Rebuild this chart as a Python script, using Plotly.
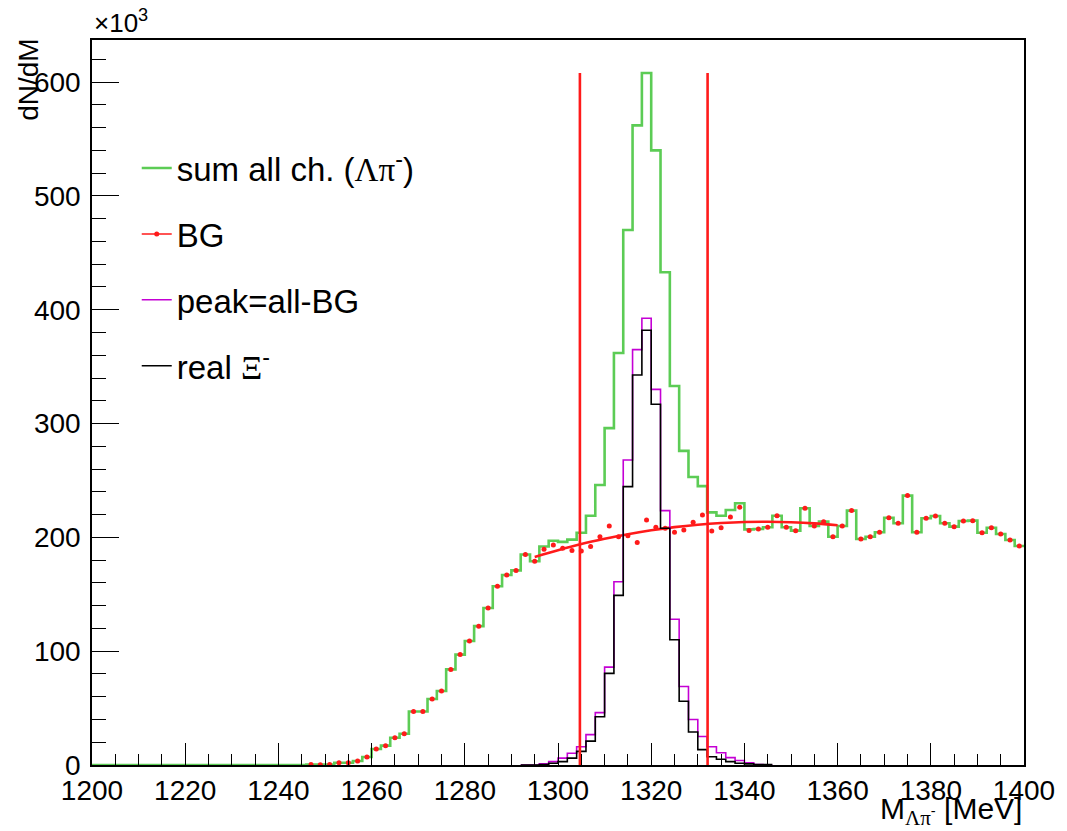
import plotly.graph_objects as go

# ---- binning (2 MeV bins from 1200 to 1400 MeV) ----
BIN_LO = 1200
BIN_W = 2
N_BINS = 100

# ---- sum of all channels (Lambda pi-), counts / 10^3, bins 0..99 ----
sum_all = [0] * 23 + [
    0.5, 0.3, 0.5, 2, 2, 3.5, 7, 14, 17, 24,            # 23-32
    27.5, 47, 47, 58, 65, 84, 97, 109, 122, 138,        # 33-42
    157, 167, 171, 185, 179, 192, 197, 196, 198, 204,   # 43-52
    219, 246, 296, 362, 470, 562, 608, 540, 433, 333,   # 53-62
    276, 253, 245, 222, 219, 224, 230, 207, 207.4, 208.9,  # 63-72
    219, 208.9, 205.9, 225.6, 210, 213.8, 200.6, 210, 223.5, 198.6,  # 73-82
    200.6, 204.5, 217.3, 212.4, 236.7, 204.5, 216.8, 218.8, 212.4, 209.4,  # 83-92
    214.4, 214.7, 204.1, 208.5, 203, 197.7, 192.4,      # 93-99
]

# ---- background estimate (points), bins 23..99 ----
bg_first_bin = 23
bg = [
    0.5, 0.3, 0.5, 2, 2, 3.5, 7, 14, 17, 24,            # 23-32
    27.5, 47, 47, 58, 65, 84, 97, 109, 122, 138,        # 33-42
    157, 167, 171, 185, 179, 189.5, 193.3, 190.5, 188.5, 188,  # 43-52
    192, 200.5, 210, 200.5, 201.5, 195.5, 215.3, 209, 208, 204.5,  # 53-62
    206.5, 213.3, 219.7, 205.5, 208.5, 218, 226.5, 206, 207.4, 208.9,  # 63-72
    219, 208.9, 205.9, 225.6, 210, 213.8, 200.6, 210, 223.5, 198.6,  # 73-82
    200.6, 204.5, 217.3, 212.4, 236.7, 204.5, 216.8, 218.8, 212.4, 209.4,  # 83-92
    214.4, 214.7, 204.1, 208.5, 203, 197.7, 192.4,      # 93-99
]

# ---- smooth background fit curve ----
fit_m = [1295, 1300, 1305, 1310, 1315, 1320, 1325, 1330, 1335, 1340, 1345, 1350, 1355, 1360]
fit_v = [182.8, 188.7, 194.1, 198.7, 202.8, 206.2, 209.0, 211.1, 212.6, 213.5, 213.7, 213.3, 212.3, 210.6]

# ---- peak = all - BG, bins 46..72 ----
sig_first_bin = 46
peak = [0, 0, 1, 3, 6, 10.3, 16, 26.7, 46, 86, 161, 268, 365, 392.5,
        330, 223.5, 128, 69, 40, 25, 16, 10.8, 6.5, 4, 2, 0.5, 0]

# ---- real Xi-, bins 46..72 ----
real_xi = [0, 0, 0.5, 1.5, 3, 6, 12, 21, 42.4, 80.5, 149, 244.6, 342.7, 382,
           317, 208, 110, 56, 29, 13.5, 7.3, 5, 3, 1.5, 1, 0.5, 0.3]

# ---- signal window cuts (MeV) ----
cut_lo = 1304.7
cut_hi = 1332.1

# ---- axis ticks ----
x_ticks = [1200, 1220, 1240, 1260, 1280, 1300, 1320, 1340, 1360, 1380, 1400]
y_ticks = [0, 100, 200, 300, 400, 500, 600]

GREEN = "#5ccc55"
RED = "#ff1a1a"
MAGENTA = "#c400d4"
BLACK = "#000000"
FONT = "Liberation Sans, Arial, Helvetica, sans-serif"


def step_xy(first_bin, vals):
    xs = [BIN_LO + BIN_W * (first_bin + i) for i in range(len(vals))]
    xs.append(BIN_LO + BIN_W * (first_bin + len(vals)))
    ys = list(vals) + [vals[-1]]
    return xs, ys


fig = go.Figure()

gx, gy = step_xy(0, sum_all)
fig.add_trace(go.Scatter(x=gx, y=gy, mode="lines", line=dict(color=GREEN, width=2.6, shape="hv"),
                         name="sum all ch. (<span style='font-family:Liberation Serif'>Λπ</span><sup>-</sup>)",
                         legendgroup="a"))

bg_x = [BIN_LO + BIN_W * (bg_first_bin + i + 0.5) for i in range(len(bg))]
fig.add_trace(go.Scatter(x=bg_x, y=bg, mode="markers", marker=dict(color=RED, size=5),
                         showlegend=False, legendgroup="b"))
fig.add_trace(go.Scatter(x=fit_m, y=fit_v, mode="lines", line=dict(color=RED, width=2.6, shape="spline"),
                         showlegend=False, legendgroup="b"))
fig.add_trace(go.Scatter(x=[None], y=[None], mode="lines+markers", name="BG",
                         line=dict(color=RED, width=1.5), marker=dict(color=RED, size=5),
                         legendgroup="b"))

px_, py_ = step_xy(sig_first_bin, peak)
fig.add_trace(go.Scatter(x=px_, y=py_, mode="lines", line=dict(color=MAGENTA, width=1.6, shape="hv"),
                         name="peak=all-BG", legendgroup="c"))

bx, by = step_xy(sig_first_bin, real_xi)
fig.add_trace(go.Scatter(x=bx, y=by, mode="lines", line=dict(color=BLACK, width=1.6, shape="hv"),
                         name="real <span style='font-family:Liberation Serif'>Ξ</span><sup>-</sup>",
                         legendgroup="d"))

top = max(sum_all)
for c in (cut_lo, cut_hi):
    fig.add_trace(go.Scatter(x=[c, c], y=[0, top], mode="lines", line=dict(color=RED, width=2.6),
                             showlegend=False, hoverinfo="skip"))

axis_common = dict(
    showgrid=False, zeroline=False, showline=True, linecolor="black", linewidth=1.5,
    mirror=True, ticks="inside", tickcolor="black", tickwidth=1.2,
    tickfont=dict(family=FONT, size=28, color="black"),
)

fig.update_xaxes(range=[1200, 1400], tickvals=x_ticks, ticklen=22,
                 minor=dict(dtick=5, ticklen=11, ticks="inside", tickcolor="black", tickwidth=1.2),
                 **axis_common)
fig.update_yaxes(range=[0, 637], tickvals=y_ticks, ticklen=27,
                 minor=dict(dtick=20, ticklen=14, ticks="inside", tickcolor="black", tickwidth=1.2),
                 ticklabelstandoff=4,
                 **axis_common)

fig.update_layout(
    width=1067, height=831, autosize=False,
    margin=dict(l=92, r=35, t=40, b=66),
    paper_bgcolor="white", plot_bgcolor="white",
    font=dict(family=FONT, color="black"),
    showlegend=True,
    legend=dict(x=0.048, y=0.862, xanchor="left", yanchor="top", bgcolor="rgba(0,0,0,0)",
                borderwidth=0, font=dict(family=FONT, size=33, color="black"),
                tracegroupgap=20, itemwidth=30),
    annotations=[
        dict(text="×10<sup>3</sup>", xref="paper", yref="paper", x=0, y=1.0,
             xanchor="left", yanchor="bottom", showarrow=False,
             font=dict(family=FONT, size=26, color="black")),
        dict(text="dN/dM", xref="paper", yref="paper", x=-0.069, y=1.004,
             xanchor="center", yanchor="top", textangle=-90, showarrow=False,
             font=dict(family=FONT, size=28, color="black")),
        dict(text="M<sub><span style='font-family:Liberation Serif'>Λπ</span><sup>-</sup></sub> [MeV]",
             xref="paper", yref="paper", x=1.0, y=-0.034,
             xanchor="right", yanchor="top", showarrow=False,
             font=dict(family=FONT, size=30, color="black")),
    ],
)

fig.write_html("out.html", config={"responsive": False},
               post_script="document.body.style.margin='0';document.body.style.overflow='hidden';")
